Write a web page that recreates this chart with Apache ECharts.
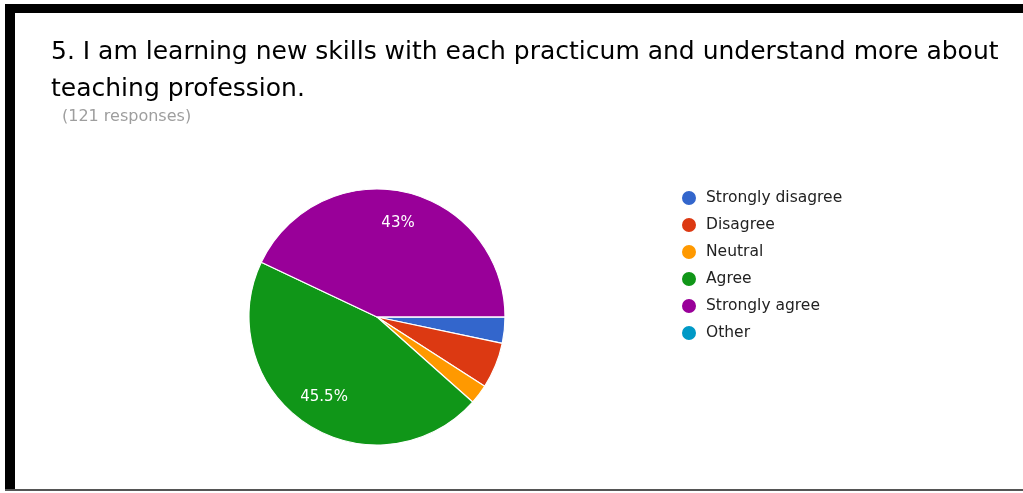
<!DOCTYPE html>
<html>
<head>
<meta charset="utf-8">
<script src="https://cdn.jsdelivr.net/npm/echarts@6/dist/echarts.min.js"></script>
<style>
html,body{margin:0;padding:0;background:#fff;}
#chart{width:1023px;height:493px;}
</style>
</head>
<body>
<div id="chart"></div>
<script>
const titleText = '5. I am learning new skills with each practicum and understand more about\nteaching profession.';
const subText = '(121 responses)';
const categories = ['Strongly disagree', 'Disagree', 'Neutral', 'Agree', 'Strongly agree', 'Other'];
const counts = [4, 7, 3, 55, 52, 0];
const colors = ['#3366cc', '#dc3912', '#ff9900', '#109618', '#990099', '#0099c6'];

const FONT = '"DejaVu Sans", Roboto, sans-serif';
const data = categories.map((c, i) => ({ name: c, value: counts[i], itemStyle: { color: colors[i] } }));

const chart = echarts.init(document.getElementById('chart'), null, { renderer: 'canvas' });
chart.setOption({
  animation: false,
  backgroundColor: '#fff',
  title: [
    { text: titleText, left: 51, top: 34, padding: 0, textStyle: { fontFamily: FONT, fontSize: 25, fontWeight: 'normal', color: '#000', lineHeight: 37 } },
    { text: subText, left: 62, top: 109, padding: 0, textStyle: { fontFamily: FONT, fontSize: 16, fontWeight: 'normal', color: '#9e9e9e' } }
  ],
  legend: {
    orient: 'vertical', left: 680, top: 189, padding: 0,
    icon: 'circle', itemWidth: 16, itemHeight: 16, itemGap: 9,
    textStyle: { fontFamily: FONT, fontSize: 15.5, color: '#222', padding: [0, 0, 0, 4] },
    data: categories
  },
  graphic: [
    { type: 'rect', shape: { x: 5, y: 4, width: 1018, height: 9 }, style: { fill: '#000' } },
    { type: 'rect', shape: { x: 5, y: 4, width: 10, height: 487 }, style: { fill: '#000' } },
    { type: 'rect', shape: { x: 5, y: 489, width: 1018, height: 2 }, style: { fill: '#555' } }
  ],
  series: [
    {
      type: 'pie', center: [377, 317], radius: [0, 128], startAngle: 0, clockwise: true,
      stillShowZeroSum: true, silent: true,
      itemStyle: { borderColor: '#fff', borderWidth: 1.2 },
      label: { show: false }, labelLine: { show: false },
      data: data
    },
    {
      type: 'pie', center: [377, 317], radius: [58, 128], startAngle: 0, clockwise: true,
      silent: true, legendHoverLink: false,
      itemStyle: { color: 'transparent', borderWidth: 0 },
      label: {
        show: true, position: 'inside', fontFamily: FONT, fontSize: 15, color: '#fff',
        formatter: p => p.percent < 10 ? '' : parseFloat(p.percent.toFixed(1)) + '%'
      },
      labelLine: { show: false },
      data: categories.map((c, i) => ({ name: c + ' ', value: counts[i] }))
    }
  ]
});
</script>
</body>
</html>
